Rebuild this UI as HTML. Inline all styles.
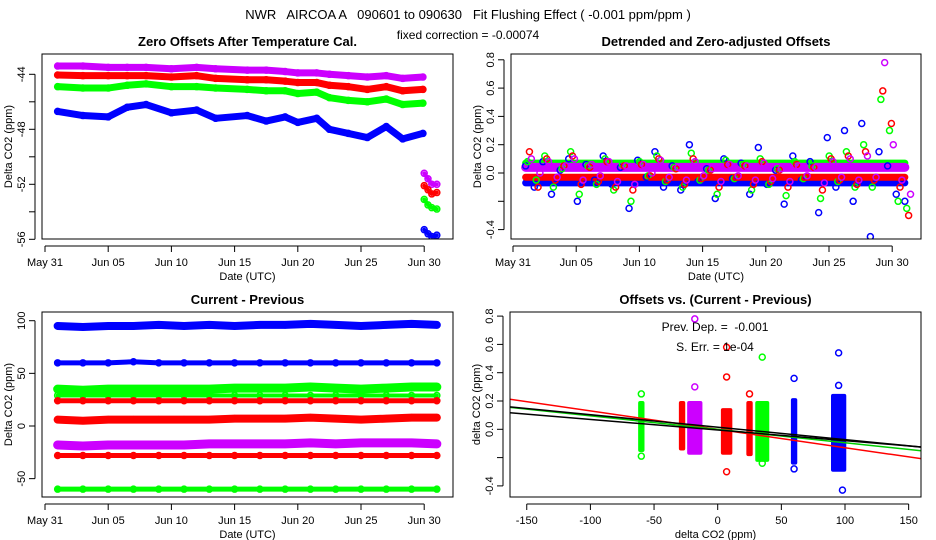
<!DOCTYPE html>
<html><head><meta charset="utf-8"><style>
html,body{margin:0;padding:0;background:#fff;}
svg{display:block;font-family:"Liberation Sans",Arial,sans-serif;}
text{white-space:pre;}
</style></head><body>
<svg id="chart" width="936" height="540" viewBox="0 0 936 540" xmlns="http://www.w3.org/2000/svg">
<rect width="936" height="540" fill="#fff"/>
<text x="468" y="19" font-size="13" text-anchor="middle" xml:space="preserve">NWR   AIRCOA A   090601 to 090630   Fit Flushing Effect ( -0.001 ppm/ppm )</text>
<text x="468" y="39" font-size="12" text-anchor="middle">fixed correction = -0.00074</text>
</svg>
<script>
// ---------- DATA ----------
const tlDays = [1,3,5,6.5,8,10,12,13.5,16,17.5,19,20,21.5,22.5,24,25.5,27,28.3,29.9];
const tlBlue = [-46.7,-47.0,-47.1,-46.4,-46.2,-46.8,-46.6,-47.2,-47.0,-47.4,-47.1,-47.5,-47.2,-48.0,-48.3,-48.6,-47.8,-48.7,-48.3];
const tlGreen = [-44.9,-45.0,-45.0,-44.8,-44.7,-44.9,-44.9,-45.0,-45.1,-45.2,-45.2,-45.4,-45.3,-45.7,-45.9,-46.0,-45.8,-46.2,-46.1];
const tlRed = [-44.05,-44.1,-44.1,-44.1,-44.1,-44.2,-44.1,-44.3,-44.4,-44.4,-44.5,-44.6,-44.6,-44.8,-44.9,-45.1,-44.9,-45.2,-45.1];
const tlPurple = [-43.4,-43.4,-43.5,-43.5,-43.5,-43.6,-43.5,-43.6,-43.7,-43.7,-43.8,-43.9,-43.9,-44.0,-44.1,-44.2,-44.1,-44.3,-44.2];
const tlTailDays = [30,30.3,30.6,31];
const tlTailBlue = [-55.3,-55.6,-55.8,-55.7];
const tlTailGreen = [-53.1,-53.5,-53.7,-53.8];
const tlTailRed = [-52.1,-52.4,-52.7,-52.6];
const tlTailPurple = [-51.2,-51.6,-52.0,-52.0];
const trBlue = [0.05,-0.1,0.08,-0.15,0.02,0.1,-0.2,0.06,-0.05,0.12,-0.08,0.04,-0.25,0.09,-0.03,0.15,-0.1,0.05,-0.12,0.2,-0.06,0.03,-0.18,0.1,-0.04,0.07,-0.15,0.18,-0.08,0.02,-0.22,0.12,-0.05,0.08,-0.28,0.25,-0.1,0.3,-0.2,0.35,-0.45,0.15,0.05,-0.15,-0.2];
const trGreen = [0.08,-0.05,0.12,-0.1,0.03,0.15,-0.15,0.05,-0.08,0.1,-0.12,0.06,-0.2,0.08,-0.02,0.12,-0.06,0.04,-0.1,0.14,-0.05,0.02,-0.15,0.09,-0.04,0.06,-0.12,0.1,-0.08,0.03,-0.16,0.08,-0.04,0.05,-0.18,0.12,-0.06,0.15,-0.1,0.2,-0.1,0.52,0.3,-0.2,-0.25];
const trRed = [0.15,-0.1,0.1,-0.05,0.05,0.12,-0.08,0.04,-0.06,0.08,-0.1,0.05,-0.12,0.06,-0.02,0.1,-0.05,0.03,-0.08,0.1,-0.04,0.02,-0.1,0.06,-0.03,0.05,-0.08,0.08,-0.06,0.02,-0.1,0.06,-0.03,0.04,-0.12,0.1,-0.05,0.12,-0.08,0.15,-0.05,0.58,0.35,-0.1,-0.3];
const trPurple = [0.1,0.0,0.08,-0.03,0.05,0.1,-0.05,0.06,-0.02,0.08,-0.06,0.05,-0.08,0.06,0.0,0.09,-0.03,0.04,-0.05,0.08,-0.02,0.03,-0.06,0.06,-0.02,0.05,-0.05,0.07,-0.04,0.03,-0.06,0.05,-0.02,0.04,-0.07,0.08,-0.03,0.1,-0.05,0.12,-0.03,0.78,0.2,-0.05,-0.15];
const trBandLevels = [-0.07,0.07,-0.03,0.04];
const blDays = [1,3,5,7,9,11,13,15,17,19,21,23,25,27,29,31];
const blBlueHi = [95,94,95,95,96,95,96,95,96,96,97,96,95,96,97,96];
const blBlueLo = [60,60,60,61,60,60,60,60,60,60,60,60,60,60,60,60];
const blGreenHi = [35,34,35,35,35,35,35,36,36,36,37,36,35,36,37,37];
const blGreenMid = [29,29,29,29,29,29,29,29,29,29,29,29,29,29,29,29];
const blRedHi = [24,24,24,24,24,24,24,24,24,24,24,24,24,24,24,24];
const blRedMid = [6,5,6,6,6,6,6,7,7,7,8,7,6,7,8,8];
const blPurple = [-18,-19,-18,-18,-18,-18,-17,-17,-17,-17,-16,-17,-16,-16,-16,-17];
const blRedLo = [-28,-28,-28,-28,-28,-28,-28,-28,-28,-28,-28,-28,-28,-28,-28,-28];
const blGreenLo = [-60,-60,-60,-60,-60,-60,-60,-60,-60,-60,-60,-60,-60,-60,-60,-60];
const brColors = ['#00ff00','#ff0000','#cc00ff','#ff0000','#ff0000','#00ff00','#0000ff','#0000ff'];
const brX = [-60,-28,-18,7,25,35,60,95];
const brHalfW = [2.5,2.5,6,4.5,2.5,5.5,2.5,6];
const brLo = [-0.16,-0.15,-0.18,-0.18,-0.19,-0.23,-0.25,-0.3];
const brHi = [0.2,0.2,0.2,0.15,0.2,0.2,0.22,0.25];
const brOutX = [-60,-60,-18,-18,7,7,7,25,35,35,60,60,95,95,98];
const brOutY = [0.25,-0.19,0.78,0.3,0.58,0.37,-0.3,0.25,0.51,-0.24,0.36,-0.28,0.54,0.31,-0.43];
const brOutC = [0,0,2,2,3,3,3,4,5,5,6,6,7,7,7];
const fitSlope = [-0.0013,-0.00095,-0.00088,-0.00075];
const fitIcpt = [0,0.0,0.015,-0.005];
const fitColors = ['#ff0000','#00cc00','#000000','#000000'];
const tlYTicks=[-44,-46,-48,-50,-52,-54,-56], tlYLabels=['-44','','-48','','-52','','-56'];
const trYTicks=[0.8,0.6,0.4,0.2,0,-0.2,-0.4], trYLabels=['0.8','0.6','0.4','0.2','0.0','','-0.4'];
const blYTicks=[100,50,0,-50], blYLabels=['100','50','0','-50'];
const dateTicks=[0,5,10,15,20,25,30], dateLabels=['May 31','Jun 05','Jun 10','Jun 15','Jun 20','Jun 25','Jun 30'];
const brXTicks=[-150,-100,-50,0,50,100,150];

// ---------- DRAW ----------
const NS='http://www.w3.org/2000/svg';
const svg=document.getElementById('chart');
function mk(tag,attrs,parent){const e=document.createElementNS(NS,tag);for(const k in attrs)e.setAttribute(k,attrs[k]);(parent||svg).appendChild(e);return e;}
const BLUE='#0000ff',GREEN='#00ff00',RED='#ff0000',PURP='#cc00ff';

function panel(id,x0,y0,x1,y1,title,xs,ys,xt,xl,yt,yl,xtitle,ytitle){
  const g=mk('g',{});
  
  
  const t=mk('text',{x:(x0+x1)/2,y:y0-8,'font-size':13,'font-weight':'bold','text-anchor':'middle'},g);
  t.textContent=title;
  
  
  const cid=id+'-clip';
  const cp=mk('clipPath',{id:cid},g);mk('rect',{x:x0,y:y0,width:x1-x0,height:y1-y0},cp);
  const plot=mk('g',{'clip-path':'url(#'+cid+')'},g);
  
  
  const ax=mk('g',{stroke:'#000','stroke-width':1,fill:'none'},g);
  
  
  mk('rect',{x:x0,y:y0,width:x1-x0,height:y1-y0},ax);
  const xa=xs(xt[0]),xb=xs(xt[xt.length-1]);
  mk('line',{x1:xa,y1:y1+7,x2:xb,y2:y1+7},ax);
  xt.forEach((v,i)=>{const x=xs(v);mk('line',{x1:x,y1:y1+7,x2:x,y2:y1+13},ax);
    const tx=mk('text',{x:x,y:y1+27,'font-size':11,'text-anchor':'middle',stroke:'none',fill:'#000'},g);tx.textContent=xl[i];
    
    });
  const ya=ys(yt[0]),yb=ys(yt[yt.length-1]);
  mk('line',{x1:x0-7,y1:ya,x2:x0-7,y2:yb},ax);
  yt.forEach((v,i)=>{const y=ys(v);mk('line',{x1:x0-7,y1:y,x2:x0-13,y2:y},ax);
    if(yl[i]){const tx=mk('text',{x:0,y:0,'font-size':11,'text-anchor':'middle',fill:'#000',transform:`translate(${x0-17},${y}) rotate(-90)`},g);tx.textContent=yl[i];
    
    }});
  const xtt=mk('text',{x:(x0+x1)/2,y:y1+41,'font-size':11,'text-anchor':'middle'},g);xtt.textContent=xtitle;
  
  
  const ytt=mk('text',{x:0,y:0,'font-size':11,'text-anchor':'middle',transform:`translate(${x0-30},${(y0+y1)/2}) rotate(-90)`},g);ytt.textContent=ytitle;
  
  
  return plot;
}
function band(p,xs,ys,xsArr,ysArr,col,w,name){
  const pts=xsArr.map((x,i)=>xs(x)+','+ys(ysArr[i])).join(' ');
  const pl=mk('polyline',{points:pts,fill:'none',stroke:col,'stroke-width':w,'stroke-linejoin':'round','stroke-linecap':'round'},p);
  
  
}
function pts(p,xs,ys,xsArr,ysArr,col,name){
  xsArr.forEach((x,i)=>{const c=mk('circle',{cx:xs(x),cy:ys(ysArr[i]),r:3,fill:'none',stroke:col,'stroke-width':1.5},p);
    
    });
}

// Top-left
const tlx=d=>45+d*12.64, tly=v=>74.3+(-44-v)*13.75;
let p=panel('zero-offsets-panel',42,54,453,239,'Zero Offsets After Temperature Cal.',tlx,tly,dateTicks,dateLabels,tlYTicks,tlYLabels,'Date (UTC)','Delta CO2 (ppm)');
[[tlPurple,tlTailPurple,PURP],[tlRed,tlTailRed,RED],[tlGreen,tlTailGreen,GREEN],[tlBlue,tlTailBlue,BLUE]].forEach(([a,b,c])=>{
  band(p,tlx,tly,tlDays,a,c,7,'offset-series');pts(p,tlx,tly,tlDays,a,c,'offset-point');
  band(p,tlx,tly,tlTailDays,b,c,4,'offset-tail');pts(p,tlx,tly,tlTailDays,b,c,'offset-tail-point');
});

// Top-right
const trx=d=>513+d*12.64, try_=v=>173-v*141.5;
p=panel('detrended-panel',511,54,921,239,'Detrended and Zero-adjusted Offsets',trx,try_,dateTicks,dateLabels,trYTicks,trYLabels,'Date (UTC)','Delta CO2 (ppm)');
const bandDays=[1,31];
[BLUE,GREEN,RED,PURP].forEach((c,i)=>band(p,trx,try_,bandDays,[trBandLevels[i],trBandLevels[i]],c,i==3?9:7,'residual-core-band'));
[[trBlue,BLUE],[trGreen,GREEN],[trRed,RED],[trPurple,PURP]].forEach(([a,c],k)=>{
  const days=a.map((v,i)=>1+i*30/(a.length-1)+k*0.15);
  pts(p,trx,try_,days,a,c,'residual-point');
});

// Bottom-left
const blx=tlx, bly=v=>426-v*1.053;
p=panel('current-previous-panel',42,312,453,497,'Current - Previous',blx,bly,dateTicks,dateLabels,blYTicks,blYLabels,'Date (UTC)','Delta CO2 (ppm)');
[[blBlueHi,BLUE,8],[blBlueLo,BLUE,5],[blGreenHi,GREEN,9],[blGreenMid,GREEN,4],[blRedHi,RED,5],[blRedMid,RED,8],[blPurple,PURP,9],[blRedLo,RED,5],[blGreenLo,GREEN,5]].forEach(([a,c,w])=>{
  band(p,blx,bly,blDays,a,c,w,'difference-series');pts(p,blx,bly,blDays,a,c,'difference-point');
});

// Bottom-right
const brx=v=>717.7+v*1.273, bry=v=>429.3-v*141.5;
p=panel('offsets-vs-difference-panel',510,312,921,497,'Offsets vs. (Current - Previous)',brx,bry,brXTicks,brXTicks.map(String),trYTicks,trYLabels,'delta CO2 (ppm)','delta CO2 (ppm)');
brX.forEach((x,i)=>{
  const r=mk('rect',{x:brx(x-brHalfW[i]),y:bry(brHi[i]),width:brx(x+brHalfW[i])-brx(x-brHalfW[i]),height:bry(brLo[i])-bry(brHi[i]),fill:brColors[i],rx:2},p);
  
  
});
brOutX.forEach((x,i)=>{const c=mk('circle',{cx:brx(x),cy:bry(brOutY[i]),r:3,fill:'none',stroke:brColors[brOutC[i]],'stroke-width':1.5},p);
  
  });
fitSlope.forEach((s,i)=>{const l=mk('line',{x1:brx(-170),y1:bry(fitIcpt[i]+s*-170),x2:brx(170),y2:bry(fitIcpt[i]+s*170),stroke:fitColors[i],'stroke-width':1.5},p);
  
  });
const t1=mk('text',{x:715,y:331,'font-size':12,'text-anchor':'middle'});t1.textContent='Prev. Dep. =  -0.001';


const t2=mk('text',{x:715,y:351,'font-size':12,'text-anchor':'middle'});t2.textContent='S. Err. = 1e-04';


</script>
</body></html>
